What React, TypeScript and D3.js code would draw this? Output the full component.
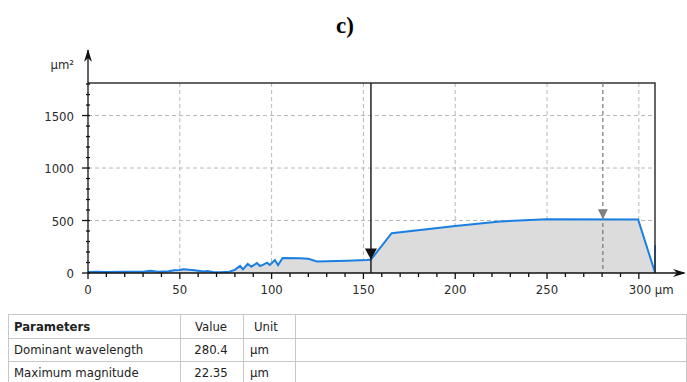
import React, { useEffect, useRef } from 'react';
import * as d3 from 'd3';

// profile (µm, µm²)
const profileX = [0, 5, 10, 20, 30, 34, 38, 44, 47, 50, 52, 55, 58, 60, 63, 65, 68, 72, 77, 80, 82.8, 84.4, 87, 89, 92, 93.7, 95.5, 97.5, 99, 101.8, 103.5, 106, 115.5, 120, 124.7, 141, 152, 154.1, 165.4, 200, 224.4, 240.7, 250, 299.6, 308.8, 308.8];
const profileY = [10, 12, 10, 11, 12, 22, 12, 16, 26, 28, 35, 30, 26, 22, 14, 18, 10, 8, 12, 30, 67, 35, 86, 60, 95, 67, 80, 98, 76, 124, 76, 143, 140, 135, 110, 117, 124, 128, 379, 448, 490, 506, 512, 510, 5, 265];

const xTicks = [0, 50, 100, 150, 200, 250, 300];
const yTicks = [0, 500, 1000, 1500];
const cursorX = 154.1;
const dominantX = 280.4;

const paramNames = ['Dominant wavelength', 'Maximum magnitude'];
const paramValues = ['280.4', '22.35'];
const paramUnits = ['µm', 'µm'];

const font = 'Tahoma, "DejaVu Sans Condensed", "Noto Sans", sans-serif';

export default function App() {
    const ref = useRef<SVGSVGElement>(null);

    useEffect(() => {
        const svg = d3.select(ref.current);
        svg.selectAll('*').remove();

        const x = d3.scaleLinear().domain([0, 308.8]).range([88, 655]);
        const y = d3.scaleLinear().domain([0, 1810]).range([273, 83]);
        const [top, bottom] = [y(1810), y(0)];
        const data = profileX.map((v, i) => [v, profileY[i]] as [number, number]);

        svg.append('text')
            .attr('x', 345).attr('y', 33)
            .attr('text-anchor', 'middle')
            .attr('font-family', '"Liberation Serif", "Times New Roman", serif')
            .attr('font-weight', 'bold').attr('font-size', 23)
            .text('c)');

        // grid
        const grid = svg.append('g').attr('stroke', '#b8b8b8').attr('stroke-dasharray', '4,3');
        grid.selectAll('line.v').data(xTicks.slice(1)).enter().append('line')
            .attr('x1', d => x(d)).attr('x2', d => x(d)).attr('y1', top).attr('y2', bottom);
        grid.selectAll('line.h').data(yTicks.slice(1)).enter().append('line')
            .attr('x1', x(0)).attr('x2', x(308.8)).attr('y1', d => y(d)).attr('y2', d => y(d));

        // area + line
        svg.append('path').datum(data)
            .attr('d', d3.area<[number, number]>().x(d => x(d[0])).y0(bottom).y1(d => y(d[1]))(data.slice(0, -1)) as string)
            .attr('fill', '#dcdcdc');
        svg.append('path').datum(data)
            .attr('d', d3.line<[number, number]>().x(d => x(d[0])).y(d => y(d[1]))(data) as string)
            .attr('fill', 'none').attr('stroke', '#1a7fe0').attr('stroke-width', 2);

        // frame
        svg.append('path')
            .attr('d', `M${x(0)},${top}H${x(308.8)}V${bottom}`)
            .attr('fill', 'none').attr('stroke', '#333').attr('stroke-width', 1.5);

        // cursors
        const cy = y(128);
        svg.append('line').attr('x1', x(cursorX)).attr('x2', x(cursorX)).attr('y1', top).attr('y2', bottom)
            .attr('stroke', '#222').attr('stroke-width', 1.5);
        svg.append('path')
            .attr('d', `M${x(cursorX) - 6},${cy - 11}H${x(cursorX) + 6}L${x(cursorX)},${cy}Z`)
            .attr('fill', '#111');
        svg.append('line').attr('x1', x(dominantX)).attr('x2', x(dominantX)).attr('y1', top).attr('y2', bottom)
            .attr('stroke', '#777').attr('stroke-width', 1.2).attr('stroke-dasharray', '4,3');
        const dy = y(512);
        svg.append('path')
            .attr('d', `M${x(dominantX) - 5},${dy - 10}H${x(dominantX) + 5}L${x(dominantX)},${dy}Z`)
            .attr('fill', '#808080');

        // axes
        const ax = svg.append('g').attr('stroke', '#111').attr('stroke-width', 1.3);
        ax.append('line').attr('x1', x(0)).attr('x2', 684).attr('y1', bottom).attr('y2', bottom);
        ax.append('line').attr('x1', x(0)).attr('x2', x(0)).attr('y1', bottom).attr('y2', 50);
        svg.append('path').attr('d', `M${x(0)},49L${x(0) - 4},62L${x(0)},58L${x(0) + 4},62Z`).attr('fill', '#111');
        svg.append('path').attr('d', `M686,${bottom}L673,${bottom - 4}L677,${bottom}L673,${bottom + 4}Z`).attr('fill', '#111');

        ax.selectAll('line.xt').data(d3.range(0, 301, 10)).enter().append('line')
            .attr('x1', d => x(d)).attr('x2', d => x(d))
            .attr('y1', bottom).attr('y2', d => bottom + (d % 50 === 0 ? 6 : 4));
        ax.selectAll('line.yt').data(d3.range(0, 1801, 100)).enter().append('line')
            .attr('y1', d => y(d)).attr('y2', d => y(d))
            .attr('x1', d => x(0) - (d % 500 === 0 ? 6 : 2)).attr('x2', d => x(0) + 2);

        const labels = svg.append('g').attr('font-family', font).attr('font-size', 13).attr('fill', '#2b2b2b');
        labels.selectAll('text.x').data(xTicks).enter().append('text')
            .attr('x', d => x(d) - (d === 300 ? 10 : 0)).attr('y', 294)
            .attr('text-anchor', d => (d === 300 ? 'start' : 'middle'))
            .text(d => (d === 300 ? '300 µm' : String(d)));
        labels.selectAll('text.y').data(yTicks).enter().append('text')
            .attr('x', 74).attr('y', d => y(d) + 5)
            .attr('text-anchor', 'end')
            .text(d => String(d));
        labels.append('text').attr('x', 74).attr('y', 69).attr('text-anchor', 'end').text('µm²');

        // parameter table
        const cols = [8, 180, 243, 295, 686];
        const rows = [314, 338, 361, 385];
        const tb = svg.append('g').attr('stroke', '#c8c8c8').attr('stroke-width', 1);
        tb.selectAll('line.r').data(rows).enter().append('line')
            .attr('x1', cols[0]).attr('x2', cols[4]).attr('y1', d => d + 0.5).attr('y2', d => d + 0.5);
        tb.selectAll('line.c').data(cols).enter().append('line')
            .attr('x1', d => d + 0.5).attr('x2', d => d + 0.5).attr('y1', rows[0]).attr('y2', rows[3]);

        const tt = svg.append('g').attr('font-family', font).attr('font-size', 13).attr('fill', '#222');
        tt.append('text').attr('x', 14).attr('y', 331).attr('font-weight', 'bold').text('Parameters');
        tt.append('text').attr('x', 211).attr('y', 331).attr('text-anchor', 'middle').text('Value');
        tt.append('text').attr('x', 254).attr('y', 331).text('Unit');
        paramNames.forEach((name, i) => {
            const ty = 354 + i * 23;
            tt.append('text').attr('x', 14).attr('y', ty).text(name);
            tt.append('text').attr('x', 211).attr('y', ty).attr('text-anchor', 'middle').text(paramValues[i]);
            tt.append('text').attr('x', 250).attr('y', ty).text(paramUnits[i]);
        });
    }, []);

    return (
        <svg ref={ref} width={687} height={382}
            style={{ position: 'absolute', left: 0, top: 0, background: '#fff' }} />
    );
}
